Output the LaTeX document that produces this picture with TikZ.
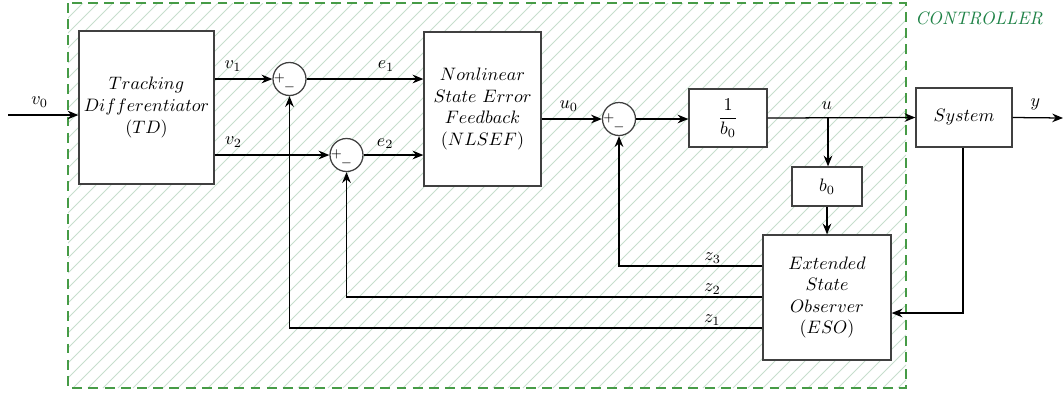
\documentclass[tikz,border=0pt]{standalone}
\usetikzlibrary{arrows.meta,calc}
\definecolor{hatchc}{RGB}{198,222,205}
\definecolor{ctrlgreen}{RGB}{70,155,70}
\definecolor{ctrltext}{RGB}{30,130,70}
\begin{document}
\begin{tikzpicture}[x=0.555pt,y=-0.555pt,
  blk/.style={draw=black!75, fill=white, line width=0.7pt, inner sep=0pt, align=center},
  sumc/.style={circle, draw=black!75, fill=white, line width=0.7pt, minimum size=33*0.555pt, inner sep=0pt},
  conn/.style={line width=0.7pt, -{Stealth[length=6pt,width=4.8pt]}},
  lab/.style={inner sep=1pt},
  sgn/.style={inner sep=0pt, font=\scriptsize}]
\useasboundingbox (0,0) rectangle (1063,396);
% controller region
\begin{scope}
  \clip (68,3) rectangle (906,388);
  \foreach \i in {0,...,83} \draw[hatchc, line width=0.5pt] ({-317+\i*15},388) -- ++(385,-385);
\end{scope}
\draw[ctrlgreen, dash pattern=on 5.5pt off 3.5pt, line width=0.8pt] (68,3) rectangle (906,388);
\node[ctrltext, font=\itshape, inner sep=0pt] (ctrl) at (979,18) {CONTROLLER};

% blocks
\node[blk, minimum width=135*0.555pt, minimum height=153*0.555pt] (td) at (146.5,107.5) {$Tracking$\\$Differentiator$\\$(TD)$};
\node[blk, minimum width=117*0.555pt, minimum height=154*0.555pt] (nl) at (482.5,109) {$Nonlinear$\\$State\ Error$\\$Feedback$\\$(NLSEF)$};
\node[blk, minimum width=78*0.555pt, minimum height=58*0.555pt] (inv) at (728,118) {$\displaystyle\frac{1}{b_0}$};
\node[blk, minimum width=96*0.555pt, minimum height=59*0.555pt] (sys) at (964,117.5) {$System$};
\node[blk, minimum width=70*0.555pt, minimum height=39*0.555pt] (b0) at (827,186.5) {$b_0$};
\node[blk, minimum width=128*0.555pt, minimum height=125*0.555pt] (eso) at (827,297.5) {$Extended$\\$State$\\$Observer$\\$(ESO)$};

% summing junctions
\node[sumc] (s1) at (289.5,79) {};
\node[sumc] (s2) at (346.5,155) {};
\node[sumc] (s3) at (619,119) {};
\foreach \s in {s1,s2,s3}{
  \node[sgn] at ($(\s)+(-10,-1)$) {$+$};
  \node[sgn] at ($(\s)+(0,8)$) {$-$};
}

% coordinates
\coordinate (in) at (8,115);
\coordinate (out) at (1063,118);
\coordinate (ub) at (828,118);
\coordinate (sysd) at (963,313);
\coordinate (c3) at (619,266);
\coordinate (c2) at (346.5,297);
\coordinate (c1) at (289.5,328);

% connectors
\draw[conn] (in) -- (td.west |- in) node[lab, pos=0.45, above=3pt] {$v_0$};
\draw[conn] (td.east |- s1) -- (s1.west) node[lab, pos=0.32, above=3pt] {$v_1$};
\draw[conn] (td.east |- s2) -- (s2.west) node[lab, pos=0.165, above=3pt] {$v_2$};
\draw[conn] (s1.east) -- (nl.west |- s1) node[lab, pos=0.68, above=3pt] {$e_1$};
\draw[conn] (s2.east) -- (nl.west |- s2) node[lab, pos=0.36, above=2pt] {$e_2$};
\draw[conn] (nl.east |- s3) -- (s3.west) node[lab, pos=0.45, above=3pt] {$u_0$};
\draw[conn] (s3.east) -- (inv.west |- s3);
\draw[conn] (inv.east) -- (sys.west) node[lab, pos=0.4, above=3pt] {$u$};
\draw[conn] (ub) -- (b0.north -| ub);
\draw[conn] (b0.south) -- (eso.north -| b0.south);
\draw[conn] (sys.east) -- (out) node[lab, pos=0.45, above=3pt] {$y$};
\draw[conn] (sys.south -| sysd) -- (sysd) -- (eso.east |- sysd);
\draw[conn] (eso.west |- c3) -- (c3) node[lab, pos=0.347, above=0pt] {$z_3$} -- (s3.south);
\draw[conn] (eso.west |- c2) -- (c2) node[lab, pos=0.12, above=0pt] {$z_2$} -- (s2.south);
\draw[conn] (eso.west |- c1) -- (c1) node[lab, pos=0.106, above=0pt] {$z_1$} -- (s1.south);
\end{tikzpicture}
\end{document}
